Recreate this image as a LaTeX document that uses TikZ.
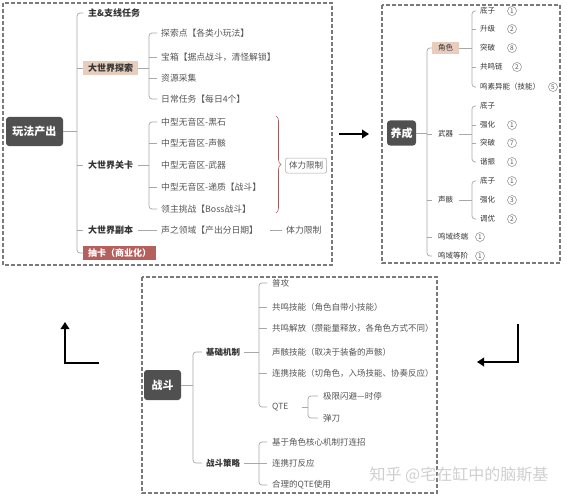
\documentclass[tikz,border=0pt]{standalone}
\usepackage{fontspec}
\setmainfont{Noto Sans CJK SC}
\usetikzlibrary{decorations.pathreplacing,arrows.meta}
\definecolor{rootg}{HTML}{505050}
\definecolor{beige}{HTML}{E8CCBC}
\definecolor{redb}{HTML}{B5605C}
\definecolor{lineg}{HTML}{A8A8A8}
\definecolor{frameg}{HTML}{7A7A7A}
\definecolor{txt}{HTML}{333333}
\definecolor{txtb}{HTML}{555555}
\definecolor{braceC}{HTML}{9E5B5B}
\definecolor{numg}{HTML}{8A8A8A}
\begin{document}
\begin{tikzpicture}[x=1pt,y=-1pt,
  conn/.style={draw=lineg, line width=0.7pt, rounded corners=3pt},
  frame/.style={draw=frameg, line width=1.1pt, dash pattern=on 4pt off 2pt},
  rootbox/.style={fill=rootg, rounded corners=3pt, text=white, font=\bfseries\fontsize{11}{12}\selectfont, inner sep=0pt},
  lone/.style={anchor=west, inner xsep=5pt, inner ysep=3pt, font=\bfseries\fontsize{9}{10}\selectfont, text=txt},
  ltwo/.style={anchor=west, inner xsep=4pt, inner ysep=1pt, font=\fontsize{8.8}{10}\selectfont, text=txtb},
  rone/.style={anchor=west, inner xsep=6pt, inner ysep=3pt, font=\fontsize{7.5}{9}\selectfont, text=txt},
  rtwo/.style={anchor=west, inner xsep=4pt, inner ysep=1pt, font=\fontsize{7.5}{9}\selectfont, text=txt},
  bone/.style={anchor=west, inner xsep=4pt, inner ysep=1pt, font=\bfseries\fontsize{8.5}{10}\selectfont, text=txt},
  btwo/.style={anchor=west, inner xsep=5pt, inner ysep=1pt, font=\fontsize{8.5}{10}\selectfont, text=txtb},
  numc/.style={circle, draw=numg, line width=0.5pt, inner sep=0pt, minimum size=9pt, font=\fontsize{6.5}{6.5}\selectfont, text=txtb},
  bigarrow/.style={draw=black, line width=2.6pt, -{Triangle[length=7pt,width=8.5pt]}},
  bracestyle/.style={draw=braceC, line width=0.6pt, decorate, decoration={brace, amplitude=5pt}}
]
\useasboundingbox (0,0) rectangle (567,500);

% frames
\draw[frame] (3,3) rectangle (332,265);
\draw[frame] (382,5) rectangle (560,263);
\draw[frame] (142,277) rectangle (437,493);

% ================= top-left
\node[rootbox, minimum width=57pt, minimum height=29pt] (r1) at (34.5,131.5) {玩法产出};
\coordinate (t1) at (77,131.5);
\node[lone] (a1) at (83,13) {主\&支线任务};
\node[lone, fill=beige] (a2) at (83,68) {大世界探索};
\node[lone] (a3) at (83,165) {大世界关卡};
\node[lone] (a4) at (83,230) {大世界副本};
\node[lone, fill=redb, text=white] (a5) at (83,253) {抽卡（商业化）};
\draw[conn] (r1.east) -- (t1);
\draw[conn] (a1.west) -| (t1) |- (a5.west);
\draw[conn] (t1 |- a2.west) -- (a2.west);
\draw[conn] (t1 |- a3.west) -- (a3.west);
\draw[conn] (t1 |- a4.west) -- (a4.west);

\coordinate (b2) at (149,68);
\node[ltwo] (c1) at (157,33) {探索点【各类小玩法】};
\node[ltwo] (c2) at (157,57) {宝箱【据点战斗，清怪解锁】};
\node[ltwo] (c3) at (157,78) {资源采集};
\node[ltwo] (c4) at (157,99) {日常任务【每日4个】};
\draw[conn] (a2.east) -- (b2);
\draw[conn] (c1.west) -| (b2) |- (c4.west);
\draw[conn] (b2 |- c2.west) -- (c2.west);
\draw[conn] (b2 |- c3.west) -- (c3.west);

\coordinate (b3) at (149,165);
\node[ltwo] (d1) at (157,122) {中型无音区-黑石};
\node[ltwo] (d2) at (157,143) {中型无音区-声骸};
\node[ltwo] (d3) at (157,165) {中型无音区-武器};
\node[ltwo] (d4) at (157,187) {中型无音区-递质【战斗】};
\node[ltwo] (d5) at (157,209) {领主挑战【Boss战斗】};
\draw[conn] (a3.east) -- (b3);
\draw[conn] (d1.west) -| (b3) |- (d5.west);
\draw[conn] (b3 |- d2.west) -- (d2.west);
\draw[conn] (b3 |- d4.west) -- (d4.west);

\coordinate (br1) at (276,116);
\coordinate (br2) at (276,213);
\draw[bracestyle] (br1) -- (br2);
\node[draw=lineg, line width=0.5pt, rounded corners=2pt, minimum width=41pt, minimum height=15pt, inner sep=0pt, font=\fontsize{8.5}{10}\selectfont, text=txtb] (lim) at (306,165.5) {体力限制};

\node[ltwo] (e1) at (157,230) {声之领域【产出分日期】};
\node[ltwo] (e2) at (282,230) {体力限制};
\draw[conn] (a4.east) -- (e1.west);
\draw[conn, shorten <=8pt] (e1.east) -- (e2.west);

% ================= top-right
\node[rootbox, minimum width=29pt, minimum height=25pt] (r2) at (401.5,133) {养成};
\coordinate (t2) at (427,133);
\node[rone, fill=beige] (f1) at (432,48) {角色};
\node[rone] (f2) at (432,134) {武器};
\node[rone] (f3) at (432,200) {声骸};
\node[rone] (f4) at (432,237) {鸣域终端};
\node[rone] (f5) at (432,256) {鸣域等阶};
\draw[conn] (r2.east) -- (t2);
\draw[conn] (f1.west) -| (t2) |- (f5.west);
\draw[conn] (t2 |- f3.west) -- (f3.west);
\draw[conn] (t2 |- f4.west) -- (f4.west);
\draw[conn] (t2 |- f2.west) -- (f2.west);

\coordinate (bg) at (472,48);
\node[rtwo] (g1) at (476,11) {底子};
\node[rtwo] (g2) at (476,29) {升级};
\node[rtwo] (g3) at (476,48) {突破};
\node[rtwo] (g4) at (476,67) {共鸣链};
\node[rtwo] (g5) at (476,87) {鸣素异能（技能）};
\draw[conn] (f1.east) -- (bg);
\draw[conn] (g1.west) -| (bg) |- (g5.west);
\draw[conn] (bg |- g2.west) -- (g2.west);
\draw[conn] (bg |- g4.west) -- (g4.west);
\node[numc] (ng1) at (512,11) {1};
\node[numc] (ng2) at (512,29) {2};
\node[numc] (ng3) at (512,48) {8};
\node[numc] (ng4) at (517,67) {2};
\node[numc] (ng5) at (553,87) {5};

\coordinate (bh) at (472,134);
\node[rtwo] (h1) at (476,106) {底子};
\node[rtwo] (h2) at (476,125) {强化};
\node[rtwo] (h3) at (476,143) {突破};
\node[rtwo] (h4) at (476,162) {谐振};
\draw[conn] (f2.east) -- (bh);
\draw[conn] (h1.west) -| (bh) |- (h4.west);
\draw[conn] (bh |- h2.west) -- (h2.west);
\draw[conn] (bh |- h3.west) -- (h3.west);
\node[numc] (nh2) at (512,125) {1};
\node[numc] (nh3) at (512,143) {7};
\node[numc] (nh4) at (512,162) {1};

\coordinate (bk) at (472,200);
\node[rtwo] (k1) at (476,181) {底子};
\node[rtwo] (k2) at (476,200) {强化};
\node[rtwo] (k3) at (476,219) {调优};
\draw[conn] (f3.east) -- (bk);
\draw[conn] (k1.west) -| (bk) |- (k3.west);
\node[numc] (nk1) at (512,181) {1};
\node[numc] (nk2) at (512,200) {3};
\node[numc] (nk3) at (512,219) {2};
\node[numc] (nf4) at (480,237) {1};
\node[numc] (nf5) at (480,256) {1};

% ================= bottom
\node[rootbox, minimum width=37pt, minimum height=30pt] (r3) at (162.5,385) {战斗};
\coordinate (t3) at (193,385);
\node[bone] (m1) at (202,352) {基础机制};
\node[bone] (m2) at (202,463) {战斗策略};
\draw[conn] (r3.east) -- (t3);
\draw[conn] (m1.west) -| (t3) |- (m2.west);

\coordinate (bp) at (259,352);
\node[btwo] (q1) at (267,283) {普攻};
\node[btwo] (q2) at (267,307) {共鸣技能（角色自带小技能）};
\node[btwo] (q3) at (267,328) {共鸣解放（攒能量释放，各角色方式不同）};
\node[btwo] (q4) at (267,352) {声骸技能（取决于装备的声骸）};
\node[btwo] (q5) at (267,373) {连携技能（切角色，入场技能、协奏反应）};
\node[btwo] (q6) at (267,407) {QTE};
\draw[conn] (m1.east) -- (bp);
\draw[conn] (q1.west) -| (bp) |- (q6.west);
\draw[conn] (bp |- q2.west) -- (q2.west);
\draw[conn] (bp |- q3.west) -- (q3.west);
\draw[conn] (bp |- q5.west) -- (q5.west);

\coordinate (bs) at (308,407);
\node[btwo] (s1) at (318,396) {极限闪避—时停};
\node[btwo] (s2) at (318,418) {弹刀};
\draw[conn, shorten <=8pt] (q6.east) -- (bs);
\draw[conn] (s1.west) -| (bs) |- (s2.west);

\coordinate (bu) at (259,463);
\node[btwo] (u1) at (267,442) {基于角色核心机制打连招};
\node[btwo] (u2) at (267,463) {连携打反应};
\node[btwo] (u3) at (267,485) {合理的QTE使用};
\draw[conn] (m2.east) -- (bu);
\draw[conn] (u1.west) -| (bu) |- (u3.west);
\draw[conn] (bu |- u2.west) -- (u2.west);

% ================= arrows
\coordinate (ar1s) at (339,134);
\coordinate (ar1e) at (369,134);
\draw[bigarrow] (ar1s) -- (ar1e);
\coordinate (ar2s) at (518,324);
\coordinate (ar2e) at (477,362);
\draw[bigarrow] (ar2s) |- (ar2e);
\coordinate (ar3s) at (99,363);
\coordinate (ar3e) at (65,322);
\draw[bigarrow] (ar3s) -| (ar3e);

% watermark
\node[font=\fontsize{16}{16}\selectfont, text=gray!38] (wm) at (459,475) {知乎 @宅在缸中的脑斯基};
\end{tikzpicture}
\end{document}
